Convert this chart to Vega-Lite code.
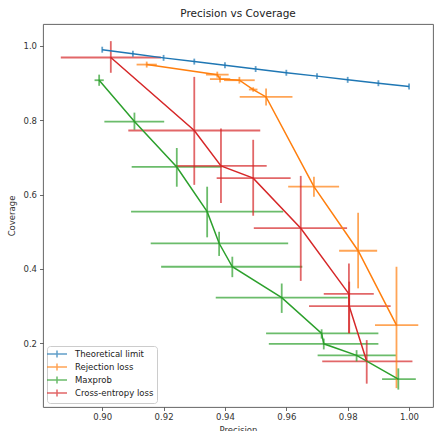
{
  "$schema": "https://vega.github.io/schema/vega-lite/v6.json",
  "autosize": "none",
  "width": 390,
  "height": 383,
  "padding": {"left": 43, "top": 24, "right": 1, "bottom": 24},
  "background": "white",
  "title": {"text": "Precision vs Coverage", "fontSize": 10.5, "font": "DejaVu Sans", "fontWeight": "normal", "color": "#222", "offset": 5},
  "config": {
    "font": "DejaVu Sans",
    "view": {"stroke": "#555", "strokeWidth": 0.9},
    "axis": {"grid": false, "domain": false, "tickColor": "#444", "tickSize": 3.5, "tickWidth": 0.8, "labelFontSize": 8.5, "labelColor": "#333", "titleFontSize": 8.5, "titleFontWeight": "normal", "titleColor": "#333", "labelFont": "DejaVu Sans", "titleFont": "DejaVu Sans"},
    "legend": {"labelFont": "DejaVu Sans"}
  },
  "data": {"values": [
    {"series": "Theoretical limit", "i": 0, "p": 0.90, "c": 0.989, "ylo": 0.981, "yhi": 0.997},
    {"series": "Theoretical limit", "i": 1, "p": 0.91, "c": 0.978, "ylo": 0.970, "yhi": 0.986},
    {"series": "Theoretical limit", "i": 2, "p": 0.92, "c": 0.967, "ylo": 0.959, "yhi": 0.975},
    {"series": "Theoretical limit", "i": 3, "p": 0.93, "c": 0.957, "ylo": 0.949, "yhi": 0.965},
    {"series": "Theoretical limit", "i": 4, "p": 0.94, "c": 0.947, "ylo": 0.939, "yhi": 0.955},
    {"series": "Theoretical limit", "i": 5, "p": 0.95, "c": 0.937, "ylo": 0.929, "yhi": 0.945},
    {"series": "Theoretical limit", "i": 6, "p": 0.96, "c": 0.927, "ylo": 0.919, "yhi": 0.935},
    {"series": "Theoretical limit", "i": 7, "p": 0.97, "c": 0.918, "ylo": 0.910, "yhi": 0.926},
    {"series": "Theoretical limit", "i": 8, "p": 0.98, "c": 0.908, "ylo": 0.900, "yhi": 0.916},
    {"series": "Theoretical limit", "i": 9, "p": 0.99, "c": 0.899, "ylo": 0.891, "yhi": 0.907},
    {"series": "Theoretical limit", "i": 10, "p": 1.00, "c": 0.890, "ylo": 0.882, "yhi": 0.898},
    {"series": "Rejection loss", "i": 0, "p": 0.9145, "c": 0.949, "xlo": 0.9112, "xhi": 0.9178, "ylo": 0.941, "yhi": 0.957},
    {"series": "Rejection loss", "i": 1, "p": 0.9375, "c": 0.922, "xlo": 0.9338, "xhi": 0.9412, "ylo": 0.914, "yhi": 0.930},
    {"series": "Rejection loss", "i": 2, "p": 0.9384, "c": 0.910, "xlo": 0.9351, "xhi": 0.9417, "ylo": 0.901, "yhi": 0.919},
    {"series": "Rejection loss", "i": 3, "p": 0.9447, "c": 0.907, "xlo": 0.9397, "xhi": 0.9497, "ylo": 0.898, "yhi": 0.916},
    {"series": "Rejection loss", "i": 4, "p": 0.9492, "c": 0.882, "xlo": 0.9478, "xhi": 0.9506, "ylo": 0.876, "yhi": 0.888},
    {"series": "Rejection loss", "i": 5, "p": 0.9534, "c": 0.862, "xlo": 0.9448, "xhi": 0.9620, "ylo": 0.839, "yhi": 0.885},
    {"series": "Rejection loss", "i": 6, "p": 0.9690, "c": 0.621, "xlo": 0.9606, "xhi": 0.9772, "ylo": 0.594, "yhi": 0.648},
    {"series": "Rejection loss", "i": 7, "p": 0.9834, "c": 0.449, "xlo": 0.9772, "xhi": 0.9896, "ylo": 0.348, "yhi": 0.551},
    {"series": "Rejection loss", "i": 8, "p": 0.9959, "c": 0.249, "xlo": 0.9889, "xhi": 1.0030, "ylo": 0.080, "yhi": 0.406},
    {"series": "Maxprob", "i": 0, "p": 0.8990, "c": 0.907, "xlo": 0.8975, "xhi": 0.9005, "ylo": 0.892, "yhi": 0.922},
    {"series": "Maxprob", "i": 1, "p": 0.9105, "c": 0.796, "xlo": 0.9007, "xhi": 0.9202, "ylo": 0.774, "yhi": 0.820},
    {"series": "Maxprob", "i": 2, "p": 0.9243, "c": 0.674, "xlo": 0.9096, "xhi": 0.9389, "ylo": 0.621, "yhi": 0.725},
    {"series": "Maxprob", "i": 3, "p": 0.9342, "c": 0.554, "xlo": 0.9094, "xhi": 0.9590, "ylo": 0.485, "yhi": 0.621},
    {"series": "Maxprob", "i": 4, "p": 0.9381, "c": 0.469, "xlo": 0.9158, "xhi": 0.9606, "ylo": 0.435, "yhi": 0.500},
    {"series": "Maxprob", "i": 5, "p": 0.9424, "c": 0.406, "xlo": 0.9192, "xhi": 0.9652, "ylo": 0.378, "yhi": 0.433},
    {"series": "Maxprob", "i": 6, "p": 0.9585, "c": 0.323, "xlo": 0.9370, "xhi": 0.9800, "ylo": 0.282, "yhi": 0.361},
    {"series": "Maxprob", "i": 7, "p": 0.9715, "c": 0.227, "xlo": 0.9534, "xhi": 0.9900, "ylo": 0.213, "yhi": 0.238},
    {"series": "Maxprob", "i": 8, "p": 0.9722, "c": 0.199, "xlo": 0.9543, "xhi": 0.9900, "ylo": 0.184, "yhi": 0.213},
    {"series": "Maxprob", "i": 9, "p": 0.9829, "c": 0.168, "xlo": 0.9702, "xhi": 0.9957, "ylo": 0.152, "yhi": 0.182},
    {"series": "Maxprob", "i": 10, "p": 0.9965, "c": 0.104, "xlo": 0.9912, "xhi": 1.0022, "ylo": 0.076, "yhi": 0.133},
    {"series": "Cross-entropy loss", "i": 0, "p": 0.9028, "c": 0.968, "xlo": 0.8865, "xhi": 0.9191, "ylo": 0.927, "yhi": 1.012},
    {"series": "Cross-entropy loss", "i": 1, "p": 0.9300, "c": 0.772, "xlo": 0.9085, "xhi": 0.9515, "ylo": 0.626, "yhi": 0.916},
    {"series": "Cross-entropy loss", "i": 2, "p": 0.9387, "c": 0.677, "xlo": 0.9237, "xhi": 0.9536, "ylo": 0.577, "yhi": 0.777},
    {"series": "Cross-entropy loss", "i": 3, "p": 0.9492, "c": 0.644, "xlo": 0.9373, "xhi": 0.9614, "ylo": 0.543, "yhi": 0.747},
    {"series": "Cross-entropy loss", "i": 4, "p": 0.9647, "c": 0.5095, "xlo": 0.9494, "xhi": 0.9798, "ylo": 0.368, "yhi": 0.650},
    {"series": "Cross-entropy loss", "i": 5, "p": 0.9804, "c": 0.333, "xlo": 0.9722, "xhi": 0.9885, "ylo": 0.228, "yhi": 0.415},
    {"series": "Cross-entropy loss", "i": 6, "p": 0.9805, "c": 0.300, "xlo": 0.9674, "xhi": 0.9940, "ylo": 0.227, "yhi": 0.366},
    {"series": "Cross-entropy loss", "i": 7, "p": 0.9862, "c": 0.152, "xlo": 0.9717, "xhi": 1.0011, "ylo": 0.092, "yhi": 0.209}
  ]},
  "encoding": {
    "color": {"field": "series", "type": "nominal",
      "scale": {"domain": ["Theoretical limit", "Rejection loss", "Maxprob", "Cross-entropy loss"], "range": ["#1f77b4", "#ff7f0e", "#2ca02c", "#d62728"]}}
  },
  "layer": [
    {
      "transform": [{"filter": "datum.xlo != null"}],
      "mark": {"type": "rule", "strokeWidth": 1.8, "opacity": 0.7},
      "encoding": {
        "x": {"field": "xlo", "type": "quantitative", "scale": {"domain": [0.8807, 1.0078], "nice": false, "zero": false}, "axis": {"values": [0.9, 0.92, 0.94, 0.96, 0.98, 1.0], "format": ".2f", "labelPadding": 2, "titlePadding": 4}, "title": "Precision"},
        "x2": {"field": "xhi"},
        "y": {"field": "c", "type": "quantitative", "scale": {"domain": [0.0293, 1.058], "nice": false, "zero": false}, "axis": {"values": [0.2, 0.4, 0.6, 0.8, 1.0], "format": ".1f", "labelPadding": 3, "titlePadding": 6}, "title": "Coverage"}
      }
    },
    {
      "mark": {"type": "rule", "strokeWidth": 1.8, "opacity": 0.7},
      "encoding": {
        "x": {"field": "p", "type": "quantitative"},
        "y": {"field": "ylo", "type": "quantitative"},
        "y2": {"field": "yhi"}
      }
    },
    {
      "mark": {"type": "line", "strokeWidth": 1.5},
      "encoding": {
        "x": {"field": "p", "type": "quantitative"},
        "y": {"field": "c", "type": "quantitative"},
        "order": {"field": "i", "type": "quantitative"},
        "color": {"field": "series", "type": "nominal",
          "legend": {"title": null, "orient": "bottom-left", "offset": 4, "fillColor": "white", "strokeColor": "#ccc", "cornerRadius": 3, "padding": 3, "labelFontSize": 8.5, "labelColor": "#222", "symbolType": "M-2.5,0L2.5,0M0,-0.9L0,0.9", "symbolSize": 64, "symbolStrokeWidth": 1.5, "symbolOffset": 2, "rowPadding": -1, "labelOffset": 13}}
      }
    }
  ]
}
